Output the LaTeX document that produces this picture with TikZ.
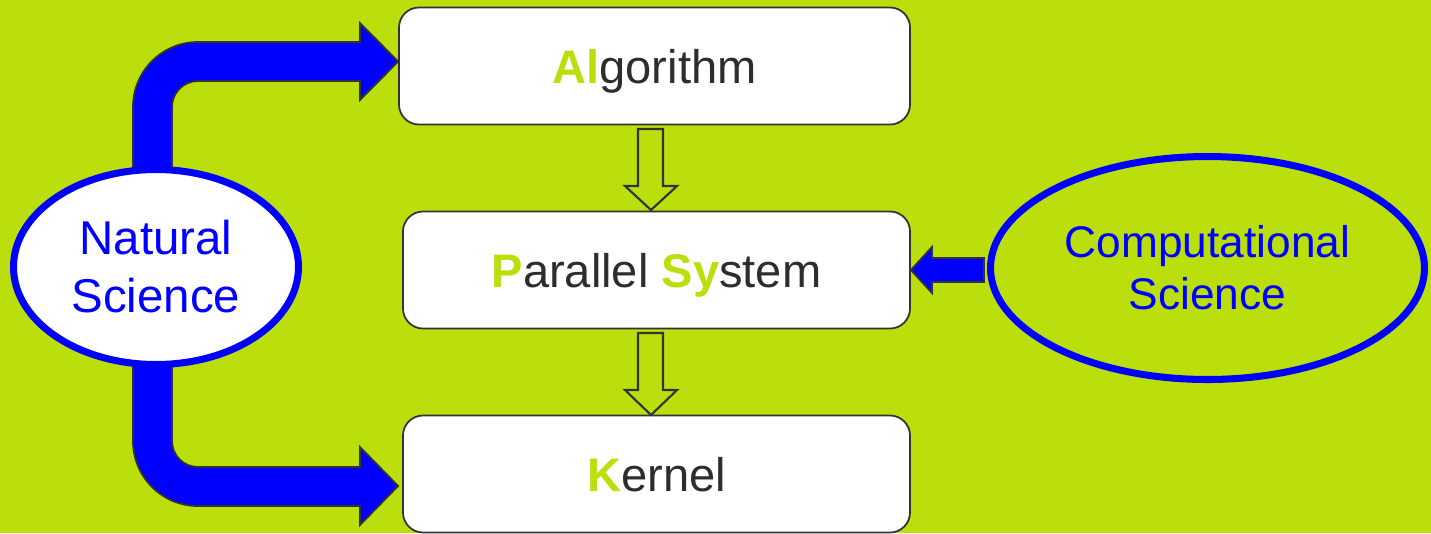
\documentclass[tikz,border=0pt]{standalone}
\usepackage{fontspec}
\setmainfont{Liberation Sans}
\usetikzlibrary{shapes.geometric,calc}
\definecolor{bg}{RGB}{187,222,13}
\definecolor{sblue}{RGB}{0,0,255}
\definecolor{txt}{RGB}{45,45,45}
\definecolor{edgec}{RGB}{51,51,51}
\newcommand{\hlg}[1]{\textcolor{bg}{\textbf{#1}}}
\begin{document}
\begin{tikzpicture}[
  box/.style={draw=edgec, line width=0.5pt, fill=white, rounded corners=0.2cm,
    minimum height=1.17cm, inner sep=0pt, text=txt,
    font=\fontsize{13.4pt}{16pt}\selectfont, text height=0.34cm, text depth=0cm},
  sci/.style={ellipse, draw=sblue, line width=2pt, text=sblue, align=center, inner sep=0pt},
  bigarrow/.style={fill=sblue, draw=edgec, line width=0.5pt, line join=miter},
  hollow/.style={draw=edgec, line width=0.6pt, fill=none, line join=miter},
]
\useasboundingbox (0,0) rectangle (14.31,-5.33);
\fill[bg] (0,0) rectangle (14.31,-5.33);

% boxes
\node[box, minimum width=5.11cm] (alg) at (6.545,-0.66) {\hlg{Al}gorithm};
\node[box, minimum width=5.07cm] (par) at (6.565,-2.70) {\hlg{P}arallel \hlg{Sy}stem};
\node[box, minimum width=5.07cm] (ker) at (6.565,-4.74) {\hlg{K}ernel};

% helper coordinates for arrow tips and shaft ends
\coordinate (t1) at (0,-0.615);
\coordinate (t2) at (0,-4.86);
\coordinate (t3) at (0,-2.70);
\coordinate (s1) at (0,-2.58);
\coordinate (s2) at (0,-2.82);

% big bent arrows from Natural Science
\draw[bigarrow] (1.33,-1.80) -- (1.33,-1.07) arc[start angle=180, end angle=90, radius=0.65]
  -- (3.60,-0.42) -- (3.60,-0.23) -- (alg.west |- t1) -- (3.60,-1.00) -- (3.60,-0.81)
  -- (1.98,-0.81) arc[start angle=90, end angle=180, radius=0.26] -- (1.72,-1.80) -- cycle;
\draw[bigarrow] (1.33,-3.50) -- (1.33,-4.41) arc[start angle=180, end angle=270, radius=0.65]
  -- (3.60,-5.06) -- (3.60,-5.25) -- ($(ker.west |- t2)+(-0.04,0)$) -- (3.60,-4.47) -- (3.60,-4.67)
  -- (1.98,-4.67) arc[start angle=270, end angle=180, radius=0.26] -- (1.72,-3.50) -- cycle;

% ellipses
\node[sci, fill=white, minimum width=2.85cm, minimum height=1.95cm,
  font=\fontsize{13.5pt}{16.5pt}\selectfont] (nat) at (1.56,-2.67) {Natural\\Science};
\node[sci, minimum width=4.34cm, minimum height=2.23cm,
  font=\fontsize{12.6pt}{14.8pt}\selectfont] (comp) at (12.075,-2.68) {Computational\\Science};

% small arrow from Computational Science
\draw[bigarrow] ($(comp.west |- s1)+(-0.03,0)$) -- (9.32,-2.58) -- (9.32,-2.47) -- (par.east |- t3)
  -- (9.32,-2.93) -- (9.32,-2.82) -- ($(comp.west |- s2)+(-0.03,0)$) -- cycle;

% hollow down arrows
\draw[hollow] (6.38,-1.29) -- (6.63,-1.29) -- (6.63,-1.86) -- (6.77,-1.86)
  -- (6.51,-2.10) -- (6.25,-1.86) -- (6.38,-1.86) -- cycle;
\draw[hollow] (6.38,-3.33) -- (6.63,-3.33) -- (6.63,-3.90) -- (6.77,-3.90)
  -- (6.51,-4.15) -- (6.25,-3.90) -- (6.38,-3.90) -- cycle;
\end{tikzpicture}
\end{document}
